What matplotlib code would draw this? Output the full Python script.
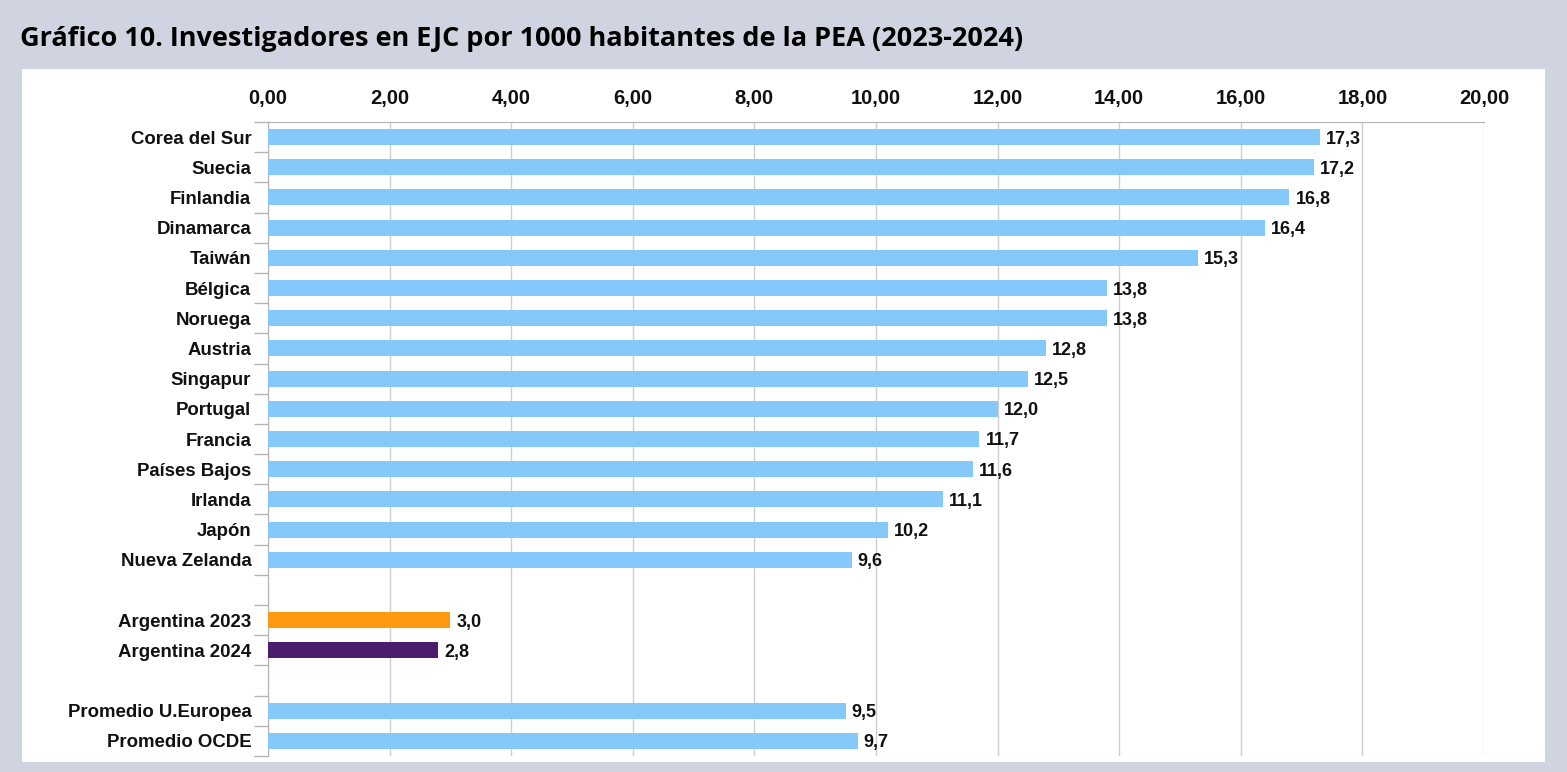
import matplotlib.pyplot as plt
import numpy as np
from matplotlib.patches import Rectangle
from matplotlib.ticker import FixedLocator

countries = ["Corea del Sur", "Suecia", "Finlandia", "Dinamarca", "Taiwán", "Bélgica",
             "Noruega", "Austria", "Singapur", "Portugal", "Francia", "Países Bajos",
             "Irlanda", "Japón", "Nueva Zelanda"]
country_vals = [17.3, 17.2, 16.8, 16.4, 15.3, 13.8, 13.8, 12.8, 12.5, 12.0, 11.7, 11.6,
                11.1, 10.2, 9.6]
arg_labels = ["Argentina 2023", "Argentina 2024"]
arg_vals = [3.0, 2.8]
avg_labels = ["Promedio U.Europea", "Promedio OCDE"]
avg_vals = [9.5, 9.7]
xticks = np.arange(0, 21, 2)

BLUE = "#85c8fa"
ORANGE = "#ff9912"
PURPLE = "#4a1e6c"
BG = "#d0d4e0"

# slots: countries, gap, argentina, gap, averages
labels = countries + [""] + arg_labels + [""] + avg_labels
values = country_vals + [None] + arg_vals + [None] + avg_vals
colors = [BLUE] * len(countries) + [None] + [ORANGE, PURPLE] + [None] + [BLUE, BLUE]

fig = plt.figure(figsize=(15.67, 7.72), dpi=100, facecolor=BG)
fig.patches.append(Rectangle((22 / 1567, 1 - 762 / 772), (1545 - 22) / 1567, (762 - 69) / 772,
                             transform=fig.transFigure, facecolor="white", edgecolor="none", zorder=-10))
fig.text(20 / 1567, 1 - 39 / 772, "Gráfico 10. Investigadores en EJC por 1000 habitantes de la PEA (2023-2024)",
         fontsize=19.5, fontweight="bold", family="Open Sans", va="center", ha="left")

ax = fig.add_axes([268 / 1567, 1 - 756 / 772, (1484 - 268) / 1567, (756 - 122) / 772])
ax.set_facecolor("none")
ax.set_zorder(5)

pos = np.arange(len(labels))
for p, v, c in zip(pos, values, colors):
    if v is None:
        continue
    ax.barh(p, v, height=0.53, color=c, zorder=3)
    ax.text(v + 0.1, p, f"{v:.1f}".replace(".", ","), va="center_baseline", ha="left",
            fontsize=13, fontweight="bold", family="Liberation Sans", color="#111111", zorder=4)

ax.set_ylim(len(labels) - 0.5, -0.5)
ax.set_xlim(0, 20)
ax.set_yticks(pos)
ax.set_yticklabels(labels, fontsize=13.4, fontweight="bold", family="Liberation Sans", color="#111111")
ax.yaxis.set_minor_locator(FixedLocator(np.arange(-0.5, len(labels), 1)))
ax.tick_params(axis="y", which="major", length=0, pad=12)
ax.tick_params(axis="y", which="minor", length=10, color="#b4b4b4", width=1)

ax.xaxis.tick_top()
ax.set_xticks(xticks)
ax.set_xticklabels([f"{t:.2f}".replace(".", ",") for t in xticks], fontsize=14.5,
                   fontweight="bold", family="Liberation Sans", color="#111111")
ax.tick_params(axis="x", length=0, pad=10)
ax.grid(axis="x", color="#cfcfcf", linewidth=1, zorder=0)

for s in ["right", "bottom"]:
    ax.spines[s].set_visible(False)
ax.spines["top"].set_color("#b4b4b4")
ax.spines["left"].set_color("#b4b4b4")

fig.savefig("out.png", dpi=100, facecolor=BG)
